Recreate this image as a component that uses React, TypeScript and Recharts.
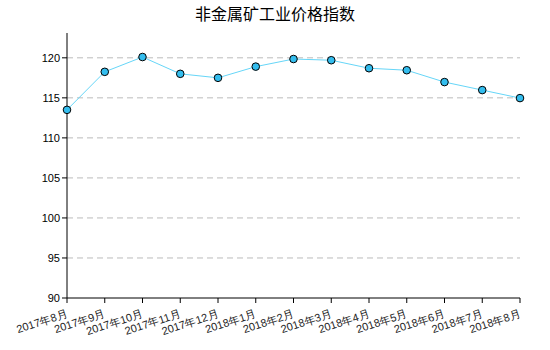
import React from 'react';
import { LineChart, Line, XAxis, YAxis, CartesianGrid } from 'recharts';

const months = ['2017年8月', '2017年9月', '2017年10月', '2017年11月', '2017年12月', '2018年1月', '2018年2月', '2018年3月', '2018年4月', '2018年5月', '2018年6月', '2018年7月', '2018年8月'];
const values = [113.5, 118.25, 120.1, 118.0, 117.5, 118.9, 119.85, 119.7, 118.7, 118.45, 116.97, 115.97, 114.97];
const yTicks = [90, 95, 100, 105, 110, 115, 120];
const yMin = 90;
const yMax = 123.1;
const title = '非金属矿工业价格指数';

const data = months.map((m, i) => ({ month: m, value: values[i] }));

const XTick = (props: any) => {
  const { x, y, payload } = props;
  return (
    <g transform={`translate(${x + 1},${y + 12}) rotate(-18)`}>
      <text x={0} y={0} textAnchor="end" fontSize={11} fill="#222" fontFamily="Liberation Sans, Arial, sans-serif">
        {payload.value}
      </text>
    </g>
  );
};

const gridGen = (p: any) => {
  const off = p.offset || {};
  const top = off.top ?? 33;
  const h = off.height ?? 265;
  return yTicks.filter((t) => t > yMin).map((t) => top + (h * (yMax - t)) / (yMax - yMin));
};

export default function App() {
  return (
    <div style={{ position: 'absolute', left: 0, top: 0, width: 550, height: 350, background: '#fff' }}>
      <div style={{ position: 'absolute', left: 0, top: 3, width: 550, textAlign: 'center', fontSize: 16, fontFamily: 'Noto Sans CJK SC, sans-serif', color: '#000', lineHeight: '20px' }}>
        {title}
      </div>
      <LineChart width={550} height={350} data={data} margin={{ top: 33, right: 30, bottom: 0, left: 0 }}>
        <CartesianGrid vertical={false} stroke="#bbb" strokeDasharray="6 4" horizontalCoordinatesGenerator={gridGen} />
        <XAxis
          dataKey="month"
          interval={0}
          height={52}
          axisLine={{ stroke: '#000' }}
          tickLine={{ stroke: '#000' }}
          tickSize={5}
          tick={<XTick />}
        />
        <YAxis
          domain={[yMin, yMax]}
          ticks={yTicks}
          width={67}
          axisLine={{ stroke: '#000' }}
          tickLine={{ stroke: '#000' }}
          tickSize={5}
          tick={{ fontSize: 11, fill: '#000', fontFamily: 'Liberation Sans, Arial, sans-serif' }}
        />
        <Line
          type="linear"
          dataKey="value"
          stroke="#66d6f8"
          strokeWidth={1}
          dot={{ r: 3.8, fill: '#33bdee', stroke: '#000', strokeWidth: 1 }}
          isAnimationActive={false}
        />
      </LineChart>
    </div>
  );
}
